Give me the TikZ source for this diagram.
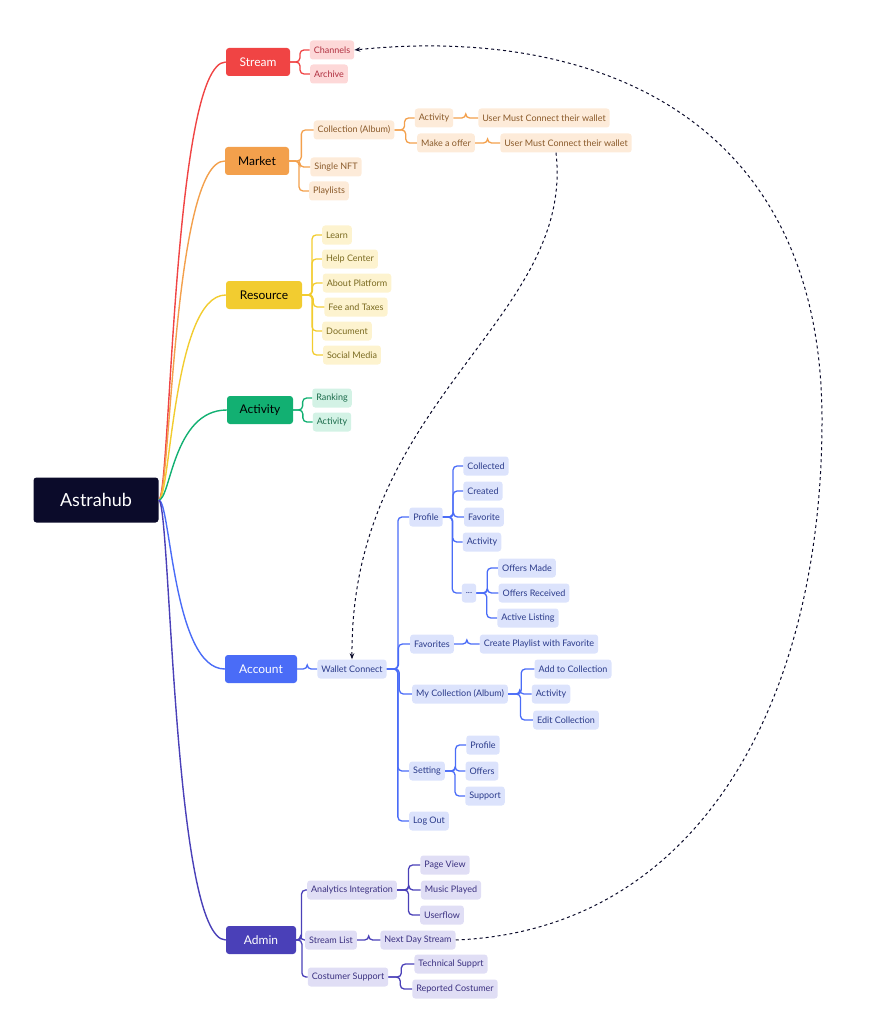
\documentclass[tikz,border=0pt]{standalone}
\usepackage{fontspec}
\setmainfont{Lato}
\usetikzlibrary{calc,arrows.meta}
\definecolor{hubc}{HTML}{0B0B2A}
\definecolor{strc}{HTML}{F04444}\definecolor{strf}{HTML}{FDD8D8}\definecolor{strt}{HTML}{B03040}
\definecolor{mkc}{HTML}{F3A04C}\definecolor{mkf}{HTML}{FDEBD9}\definecolor{mkt}{HTML}{8A5A2A}
\definecolor{rsc}{HTML}{F2CC30}\definecolor{rsf}{HTML}{FDF3CF}\definecolor{rst}{HTML}{7A6A20}
\definecolor{acc}{HTML}{12B072}\definecolor{acf}{HTML}{D3F2E5}\definecolor{act}{HTML}{1A6A4A}
\definecolor{ac2c}{HTML}{4A6CF7}\definecolor{ac2f}{HTML}{DCE3FC}\definecolor{ac2t}{HTML}{2A3A8A}
\definecolor{adc}{HTML}{4A40B8}\definecolor{adf}{HTML}{E0DEF5}\definecolor{adt}{HTML}{3A3080}
\tikzset{
  main/.style={rounded corners=3, minimum height=28, minimum width=64, font=\fontsize{12}{14}\selectfont, text=white},
  leaf/.style={rounded corners=3, minimum height=19, inner xsep=4, font=\fontsize{9}{11}\selectfont},
  link/.style={line width=1.3, rounded corners=4},
  jump/.style={dashed, line width=1, draw=hubc, -{Stealth[length=6]}},
}
% parent to children elbow
\newcommand\br[3]{\foreach \c in {#3}{\draw[link,#1] (#2.east) -- ($(#2.east)!0.5!(#2.east -| \c.west)$) |- (\c.west);}}
\newcommand\trunk[2]{\draw[line width=1.4,#1] (hub.east) .. controls ($(hub.east)+(12,0)$) and ($(hub.east |- #2.west)+(14,0)$) .. (#2.west);}
\begin{document}
\begin{tikzpicture}[x=1pt,y=-1pt]
\useasboundingbox (0,0) rectangle (880,1024);
\node[fill=hubc, text=white, rounded corners=3, minimum width=125, minimum height=45, font=\fontsize{18}{20}\selectfont] (hub) at (96,500) {Astrahub};

% stream
\node[main, fill=strc] (stream) at (258,62) {Stream};
\begin{scope}[every node/.style={leaf, fill=strf, text=strt}]
\node (chan) at (332,50) {Channels};
\node (arch) at (329,74) {Archive};
\end{scope}
\br{strc}{stream}{chan,arch}

% market
\node[main, fill=mkc, text=black] (market) at (257,161) {Market};
\begin{scope}[every node/.style={leaf, fill=mkf, text=mkt}]
\node (coll) at (354,130) {Collection (Album)};
\node (mact) at (434,118) {Activity};
\node (wal1) at (544,118) {User Must Connect their wallet};
\node (offer) at (446,143) {Make a offer};
\node (wal2) at (566,143) {User Must Connect their wallet};
\node (single) at (336,167) {Single NFT};
\node (plist) at (329,191) {Playlists};
\end{scope}
\br{mkc}{market}{coll,single,plist}
\br{mkc}{coll}{mact,offer}
\br{mkc}{mact}{wal1}
\br{mkc}{offer}{wal2}

% resource
\node[main, fill=rsc, text=black, minimum width=76] (res) at (264,295) {Resource};
\begin{scope}[every node/.style={leaf, fill=rsf, text=rst}]
\node (learn) at (337,235) {Learn};
\node (help) at (350,259) {Help Center};
\node (about) at (357,283) {About Platform};
\node (fee) at (356,307) {Fee and Taxes};
\node (doc) at (347,331) {Document};
\node (social) at (352,355) {Social Media};
\end{scope}
\br{rsc}{res}{learn,help,about,fee,doc,social}

% activity
\node[main, fill=acc, text=black, minimum width=66] (activ) at (260,410) {Activity};
\begin{scope}[every node/.style={leaf, fill=acf, text=act}]
\node (rank) at (332,398) {Ranking};
\node (aact) at (332,422) {Activity};
\end{scope}
\br{acc}{activ}{rank,aact}

% account
\node[main, fill=ac2c, minimum width=72] (account) at (261,669) {Account};
\begin{scope}[every node/.style={leaf, fill=ac2f, text=ac2t}]
\node (wallet) at (352,669) {Wallet Connect};
\node (prof) at (426,517) {Profile};
\node (colld) at (486,466) {Collected};
\node (creat) at (483,491) {Created};
\node (fav) at (484,517) {Favorite};
\node (pact) at (482,542) {Activity};
\node (more) at (469,593) {...};
\node (omade) at (527,568) {Offers Made};
\node (orec) at (534,593) {Offers Received};
\node (alist) at (528,618) {Active Listing};
\node (favs) at (432,644) {Favorites};
\node (cpl) at (539,644) {Create Playlist with Favorite};
\node (mycoll) at (460,694) {My Collection (Album)};
\node (addc) at (573,669) {Add to Collection};
\node (cact) at (551,694) {Activity};
\node (editc) at (566,720) {Edit Collection};
\node (sett) at (427,771) {Setting};
\node (sprof) at (483,745) {Profile};
\node (soff) at (482,771) {Offers};
\node (ssup) at (485,796) {Support};
\node (logout) at (429,821) {Log Out};
\end{scope}
\br{ac2c}{account}{wallet}
\br{ac2c}{wallet}{prof,favs,mycoll,sett,logout}
\br{ac2c}{prof}{colld,creat,fav,pact,more}
\br{ac2c}{more}{omade,orec,alist}
\br{ac2c}{favs}{cpl}
\br{ac2c}{mycoll}{addc,cact,editc}
\br{ac2c}{sett}{sprof,soff,ssup}

% admin
\node[main, fill=adc, minimum width=70] (admin) at (261,940) {Admin};
\begin{scope}[every node/.style={leaf, fill=adf, text=adt}]
\node (anal) at (352,890) {Analytics Integration};
\node (page) at (445,865) {Page View};
\node (music) at (451,890) {Music Played};
\node (uflow) at (442,915) {Userflow};
\node (slist) at (331,940) {Stream List};
\node (next) at (418,940) {Next Day Stream};
\node (csup) at (348,977) {Costumer Support};
\node (tech) at (451,964) {Technical Supprt};
\node (rep) at (455,989) {Reported Costumer};
\end{scope}
\br{adc}{admin}{anal,slist,csup}
\br{adc}{anal}{page,music,uflow}
\br{adc}{slist}{next}
\br{adc}{csup}{tech,rep}

% trunks
\trunk{strc}{stream}
\trunk{mkc}{market}
\trunk{rsc}{res}
\trunk{acc}{activ}
\trunk{ac2c}{account}
\trunk{adc}{admin}

% jumps
\draw[jump] (next.east) .. controls (700,930) and (822,700) .. (822,420)
  .. controls (822,120) and (600,25) .. (chan.east);
\draw[jump] ([xshift=-10]wal2.south) .. controls (575,320) and (350,400) .. (wallet.north);
\end{tikzpicture}
\end{document}
